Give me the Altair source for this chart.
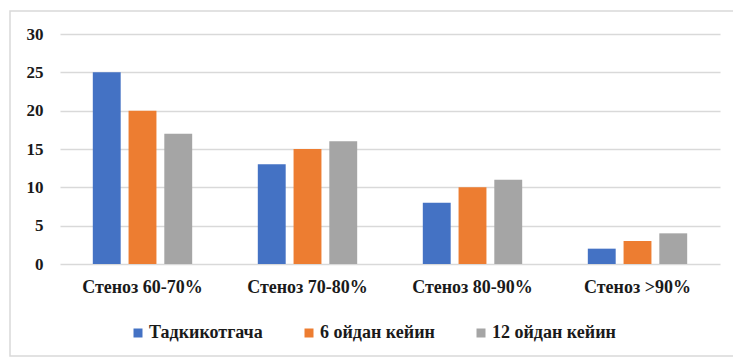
import altair as alt
import pandas as pd

categories = ["Стеноз 60-70%", "Стеноз 70-80%", "Стеноз 80-90%", "Стеноз >90%"]
series = ["Тадкикотгача", "6 ойдан кейин", "12 ойдан кейин"]
values = {
    "Тадкикотгача": [25, 13, 8, 2],
    "6 ойдан кейин": [20, 15, 10, 3],
    "12 ойдан кейин": [17, 16, 11, 4],
}
colors = ["#4472C4", "#ED7D31", "#A5A5A5"]
y_ticks = [0, 5, 10, 15, 20, 25, 30]

rows = []
for s in series:
    for c, v in zip(categories, values[s]):
        rows.append({"cat": c, "series": s, "value": v})
df = pd.DataFrame(rows)

FONT = "'Liberation Serif', 'Times New Roman', serif"

bars = alt.Chart(df).mark_bar().encode(
    x=alt.X("cat:N", sort=categories, title=None,
            scale=alt.Scale(paddingInner=0.35, paddingOuter=0.175),
            axis=alt.Axis(labelAngle=0, labelFont=FONT, labelFontSize=18,
                          labelFontWeight="bold", labelColor="#1a1a1a",
                          ticks=False, domain=False, labelPadding=14)),
    xOffset=alt.XOffset("series:N", sort=series,
                        scale=alt.Scale(paddingInner=0.22, paddingOuter=0.11)),
    y=alt.Y("value:Q", title=None,
            scale=alt.Scale(domain=[0, 30]),
            axis=alt.Axis(values=y_ticks, labelFont=FONT, labelFontSize=17,
                          labelFontWeight="bold", labelColor="#1a1a1a",
                          ticks=False, domain=False, labelPadding=17,
                          gridColor="#D9D9D9", gridWidth=1.5)),
    color=alt.Color("series:N", sort=series,
                    scale=alt.Scale(domain=series, range=colors),
                    legend=alt.Legend(title=None, orient="none", direction="horizontal",
                                      legendX=69, legendY=290,
                                      labelFont=FONT, labelFontSize=18,
                                      labelFontWeight="bold", labelColor="#1a1a1a",
                                      symbolType="square", symbolSize=81,
                                      symbolStrokeWidth=0, columnPadding=37,
                                      labelOffset=2)),
)

border = alt.Chart(pd.DataFrame({"a": [0]})).mark_rect(
    fill=None, stroke="#D9D9D9", strokeWidth=1.5
).encode(
    x=alt.value(-50), x2=alt.value(720), y=alt.value(-23), y2=alt.value(322)
)

chart = alt.layer(border, bars).properties(
    width=660, height=230,
    autosize=alt.AutoSizeParams(type="none"),
    padding={"left": 60, "top": 34, "right": 13, "bottom": 94},
    background="white",
).configure(font=FONT).configure_view(stroke=None)

chart.save("out.html", embed_options={"renderer": "svg", "actions": False})
